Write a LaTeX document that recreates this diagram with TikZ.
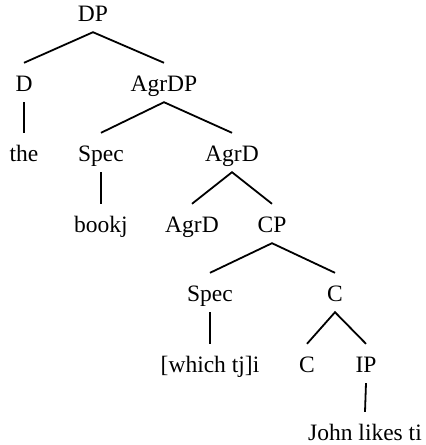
\documentclass[tikz,border=0pt]{standalone}
\usepackage{fontspec}
\setmainfont{Liberation Serif}
\usepackage{tikz}

\begin{document}
\begin{tikzpicture}[x=1pt,y=-1pt,
    lbl/.style={anchor=base,inner xsep=2pt,inner ysep=7pt,text height=21pt,text depth=4pt,
                font=\fontsize{23.5}{28}\selectfont},
    branch/.style={line width=1.8pt}]
    \useasboundingbox (0,0) rectangle (426,445);
    \foreach \n/\x/\l in{
    1/{(93,21)}/{DP},
    2/{(24,91)}/{D},
    3/{(164,91)}/{AgrDP},
    4/{(24,161)}/{the},
    5/{(101,161)}/{Spec},
    6/{(232,161)}/{AgrD},
    7/{(101,232)}/{bookj},
    8/{(192,232)}/{AgrD},
    9/{(272,232)}/{CP},
    10/{(210,301)}/{Spec},
    11/{(335,301)}/{C},
    12/{(210,372)}/{[which tj]i},
    13/{(307,372)}/{C},
    14/{(366,372)}/{IP},
    15/{(365,440)}/{John likes ti}
    }
    {
            \node[lbl] (\n) at \x {\l};
        }
    \draw[branch] (2.north) -- (1.south) -- (3.north);
    \draw[branch] (2.south) -- (4.north);
    \draw[branch] (5.north) -- (3.south) -- (6.north);
    \draw[branch] (5.south) -- (7.north);
    \draw[branch] (8.north) -- (6.south) -- (9.north);
    \draw[branch] (10.north) -- (9.south) -- (11.north);
    \draw[branch] (10.south) -- (12.north);
    \draw[branch] (13.north) -- (11.south) -- (14.north);
    \draw[branch] (14.south) -- (15.north);
\end{tikzpicture}
\end{document}
